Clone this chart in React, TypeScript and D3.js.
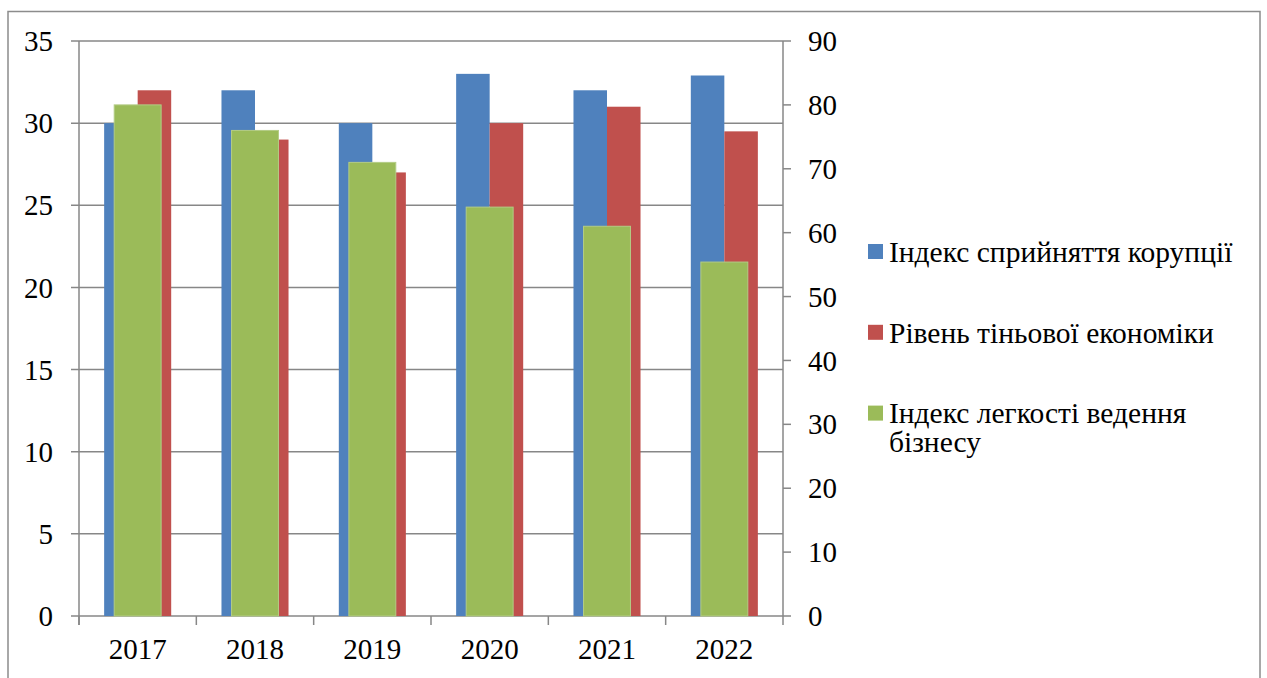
import React from "react";
import * as d3 from "d3";

// Years on the category axis
const years = ["2017", "2018", "2019", "2020", "2021", "2022"];
// Primary-axis series
const corruptionIndex = [30, 32, 30, 33, 32, 32.9];
const shadowEconomy = [32, 29, 27, 30, 31, 29.5];
// Secondary-axis series
const easeOfBusiness = [80, 76, 71, 64, 61, 55.4];

const leftTicks = [0, 5, 10, 15, 20, 25, 30, 35];
const rightTicks = [0, 10, 20, 30, 40, 50, 60, 70, 80, 90];

const seriesNames = [
  ["Індекс сприйняття корупції"],
  ["Рівень тіньової економіки"],
  ["Індекс легкості ведення", "бізнесу"],
];
const colors = ["#4F81BD", "#C0504D", "#9BBB59"];

const W = 1267;
const H = 678;
const plot = { left: 79, right: 783, top: 41, bottom: 616 };
const font = '"Liberation Serif", "Times New Roman", Tinos, "DejaVu Serif", serif';
const axisColor = "#878787";
const textStyle = { fontFamily: font };
const tickFont = 29;
const legendFont = 29.5;

export default function App() {
  const x = d3
    .scaleBand<string>()
    .domain(years)
    .range([plot.left, plot.right])
    .paddingInner(0)
    .paddingOuter(0);
  const yL = d3.scaleLinear().domain([0, 35]).range([plot.bottom, plot.top]);
  const yR = d3.scaleLinear().domain([0, 90]).range([plot.bottom, plot.top]);

  const band = x.bandwidth();
  // gap width 150%: two clustered bars on the primary axis, one on the secondary
  const pairW = band / 3.5;
  const singleW = band / 2.5;

  const primary = [corruptionIndex, shadowEconomy];

  return (
    <svg
      width={W}
      height={H}
      style={{ position: "absolute", left: 0, top: 0, background: "#fff", fontFamily: font }}
    >
      {/* outer frame */}
      <rect x={8} y={11.5} width={1252} height={700} fill="none" stroke="#8c8c8c" strokeWidth={1.5} />

      {/* horizontal gridlines */}
      {leftTicks.map((t) => (
        <line
          key={"g" + t}
          x1={plot.left - 8}
          x2={plot.right}
          y1={yL(t)}
          y2={yL(t)}
          stroke={axisColor}
          strokeWidth={1.5}
        />
      ))}

      {/* primary clustered bars */}
      {primary.map((vals, si) =>
        vals.map((v, i) => {
          const x0 = (x(years[i]) as number) + band / 2 - pairW + si * pairW;
          return (
            <rect
              key={`p${si}-${i}`}
              x={x0}
              y={yL(v)}
              width={pairW}
              height={yL(0) - yL(v)}
              fill={colors[si]}
            />
          );
        })
      )}

      {/* secondary bars */}
      {easeOfBusiness.map((v, i) => {
        const x0 = (x(years[i]) as number) + band / 2 - singleW / 2;
        return (
          <rect
            key={"s" + i}
            x={x0}
            y={yR(v)}
            width={singleW}
            height={yR(0) - yR(v)}
            fill={colors[2]}
            stroke="#b3cc85"
            strokeWidth={1}
          />
        );
      })}

      {/* left axis */}
      <line x1={plot.left} x2={plot.left} y1={plot.top} y2={plot.bottom + 9} stroke={axisColor} strokeWidth={1.5} />
      {leftTicks.map((t) => (
        <text
          key={"lt" + t}
          x={53}
          y={yL(t)}
          dy="0.35em"
          textAnchor="end"
          fontSize={tickFont}
          fill="#000"
          style={textStyle}
        >
          {t}
        </text>
      ))}

      {/* right axis */}
      <line x1={plot.right} x2={plot.right} y1={plot.top} y2={plot.bottom + 9} stroke={axisColor} strokeWidth={1.5} />
      {rightTicks.map((t) => (
        <g key={"rt" + t}>
          <line x1={plot.right} x2={plot.right + 8} y1={yR(t)} y2={yR(t)} stroke={axisColor} strokeWidth={1.5} />
          <text x={808} y={yR(t)} dy="0.35em" textAnchor="start" fontSize={tickFont} fill="#000" style={textStyle}>
            {t}
          </text>
        </g>
      ))}

      {/* category axis */}
      {years.map((yr) => (
        <line
          key={"ct" + yr}
          x1={x(yr) as number}
          x2={x(yr) as number}
          y1={plot.bottom}
          y2={plot.bottom + 9}
          stroke={axisColor}
          strokeWidth={1.5}
        />
      ))}
      {years.map((yr) => (
        <text
          key={"cl" + yr}
          x={(x(yr) as number) + band / 2}
          y={659}
          textAnchor="middle"
          fontSize={tickFont}
          fill="#000"
          style={textStyle}
        >
          {yr}
        </text>
      ))}

      {/* legend */}
      {seriesNames.map((lines, i) => {
        const base = 261.7 + i * 80.8;
        return (
          <g key={"lg" + i}>
            <rect x={868} y={base - 17.7} width={15} height={15} fill={colors[i]} />
            <text x={889} y={base} fontSize={legendFont} fill="#000" style={textStyle}>
              {lines.map((ln, j) => (
                <tspan key={j} x={889} dy={j === 0 ? 0 : 29}>
                  {ln}
                </tspan>
              ))}
            </text>
          </g>
        );
      })}
    </svg>
  );
}
